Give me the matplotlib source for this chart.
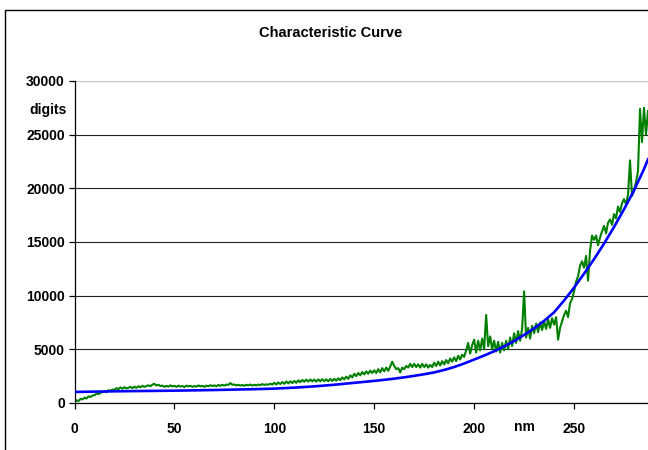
import matplotlib
matplotlib.use("Agg")
import matplotlib.pyplot as plt
from matplotlib.patches import Rectangle

plt.rcParams['font.family'] = ['Liberation Sans', 'DejaVu Sans']
plt.rcParams['font.weight'] = 'bold'

title = "Characteristic Curve"
x_label = "nm"
y_label = "digits"
x_ticks = [0, 50, 100, 150, 200, 250]
y_ticks = [0, 5000, 10000, 15000, 20000, 25000, 30000]

# measured signal (one value per nm, starting at 0)
measured = [
    100, 250, 180, 380, 330, 500, 420, 620, 560, 700,
    720, 880, 820, 960, 1010, 1100, 1000, 1190, 1150, 1260,
    1220, 1380, 1300, 1450, 1330, 1470, 1360, 1420, 1500, 1380,
    1520, 1410, 1560, 1470, 1600, 1500, 1580, 1650, 1560, 1720,
    1780, 1640, 1700, 1580, 1620, 1500, 1600, 1520, 1640, 1540,
    1600, 1500, 1620, 1530, 1580, 1480, 1620, 1540, 1600, 1510,
    1580, 1520, 1640, 1550, 1600, 1500, 1620, 1560, 1660, 1580,
    1640, 1560, 1680, 1600, 1700, 1620, 1720, 1680, 1860, 1700,
    1720, 1640, 1700, 1620, 1680, 1600, 1700, 1640, 1720, 1620,
    1700, 1640, 1720, 1660, 1760, 1680, 1740, 1700, 1800, 1720,
    1880, 1720, 1920, 1760, 1950, 1790, 2000, 1820, 2020, 1860,
    2060, 1880, 2110, 1940, 2150, 1980, 2180, 2000, 2190, 2020,
    2180, 2000, 2200, 2020, 2220, 2040, 2200, 2020, 2240, 2060,
    2250, 2080, 2300, 2120, 2380, 2200, 2450, 2250, 2580, 2380,
    2720, 2500, 2800, 2580, 2880, 2660, 2950, 2720, 3020, 2800,
    3050, 2800, 3150, 2850, 3250, 2950, 3300, 3000, 3400, 3850,
    3450, 3150, 3250, 2850, 3300, 3150, 3450, 3300, 3650, 3350,
    3650, 3350, 3600, 3300, 3650, 3350, 3600, 3300, 3550, 3350,
    3750, 3450, 3850, 3500, 3900, 3600, 4000, 3700, 4150, 3850,
    4250, 3900, 4400, 4050, 4500, 4300, 4900, 5600, 4600, 5400,
    5900, 4700, 5800, 4900, 6000, 5000, 8200, 5300, 6200, 5000,
    5800, 4800, 5700, 4700, 5600, 4900, 5800, 5000, 6100, 5300,
    6500, 5600, 6700, 5800, 6900, 10400, 6100, 7000, 6000, 7200,
    6500, 7400, 6600, 7500, 6800, 7600, 6900, 7800, 7000, 7900,
    7300, 8000, 5900, 7000, 7600, 8200, 8600, 8000, 9300, 9700,
    10400, 11300, 11800, 12800, 13200, 12600, 13700, 11400, 14200, 15600,
    15200, 15600, 14700, 15400, 16000, 16500, 15800, 16800, 17100, 16600,
    17600, 17200, 18300, 17800, 18600, 19000, 18500, 19400, 22600, 19300,
    19800, 20600, 21600, 27400, 24300, 27500, 25000, 27200,
]
measured_x = list(range(len(measured)))

# fitted curve
fit_x = [0, 10, 20, 30, 40, 50, 60, 70, 80, 90, 100, 110, 120, 130, 140,
         150, 155, 160, 165, 170, 175, 180, 185, 190, 195, 200, 205, 210,
         215, 220, 225, 230, 235, 240, 245, 250, 255, 260, 265, 270, 275,
         280, 285, 287]
fit_y = [1030, 1060, 1090, 1110, 1130, 1150, 1180, 1210, 1250, 1290, 1340,
         1430, 1550, 1700, 1880,
         2060, 2160, 2270, 2390, 2530, 2680, 2850, 3080, 3350, 3680, 4050,
         4420, 4820, 5270, 5780, 6340, 6950, 7650, 8450, 9550, 10750,
         12050, 13400, 14850, 16400, 18050, 19800, 21800, 22700]

W, H = 648, 450
fig = plt.figure(figsize=(W / 100, H / 100), dpi=100)
fig.patch.set_facecolor('white')

# outer chart border
fig.patches.append(Rectangle((5 / W, -0.1), 1.2, 1.1 - 10 / H,
                             transform=fig.transFigure, fill=False,
                             edgecolor='black', linewidth=1.0))

left, right = 74.5 / W, 1.0
bottom, top = (H - 403) / H, (H - 81) / H
ax = fig.add_axes([left, bottom, right - left, top - bottom])

ax.plot(measured_x, measured, color='#008000', linewidth=1.5, zorder=2)
ax.plot(fit_x, fit_y, color='#0000ff', linewidth=1.9, zorder=3)

ax.set_xlim(0, 287)
ax.set_ylim(0, 30000)
ax.set_xticks(x_ticks)
ax.set_yticks(y_ticks)
ax.set_xticklabels([str(v) for v in x_ticks], fontweight='bold', fontsize=10)
ax.set_yticklabels([str(v) for v in y_ticks], fontweight='bold', fontsize=10)

ax.spines['top'].set_visible(False)
ax.spines['right'].set_visible(False)
ax.spines['left'].set_linewidth(0.9)
ax.spines['bottom'].set_linewidth(0.9)
ax.tick_params(axis='x', direction='out', length=4, width=0.9, pad=10)
ax.tick_params(axis='y', direction='out', length=4, width=0.9, pad=3)

ax.set_axisbelow(True)
ax.grid(axis='y', color='#222222', linewidth=0.8)
ax.grid(axis='x', visible=False)
gl = ax.get_ygridlines()
gl[-1].set_color('#c8c8c8')
gl[-1].set_linewidth(1.0)

fig.text(331 / W, 1 - 33 / H, title, ha='center', va='center',
         fontsize=10.5, fontweight='bold')
fig.text(48 / W, 1 - 110 / H, y_label, ha='center', va='center',
         fontsize=10, fontweight='bold')
fig.text(524 / W, 1 - 427 / H, x_label, ha='center', va='center',
         fontsize=10, fontweight='bold')

fig.savefig('out.png', dpi=100)
